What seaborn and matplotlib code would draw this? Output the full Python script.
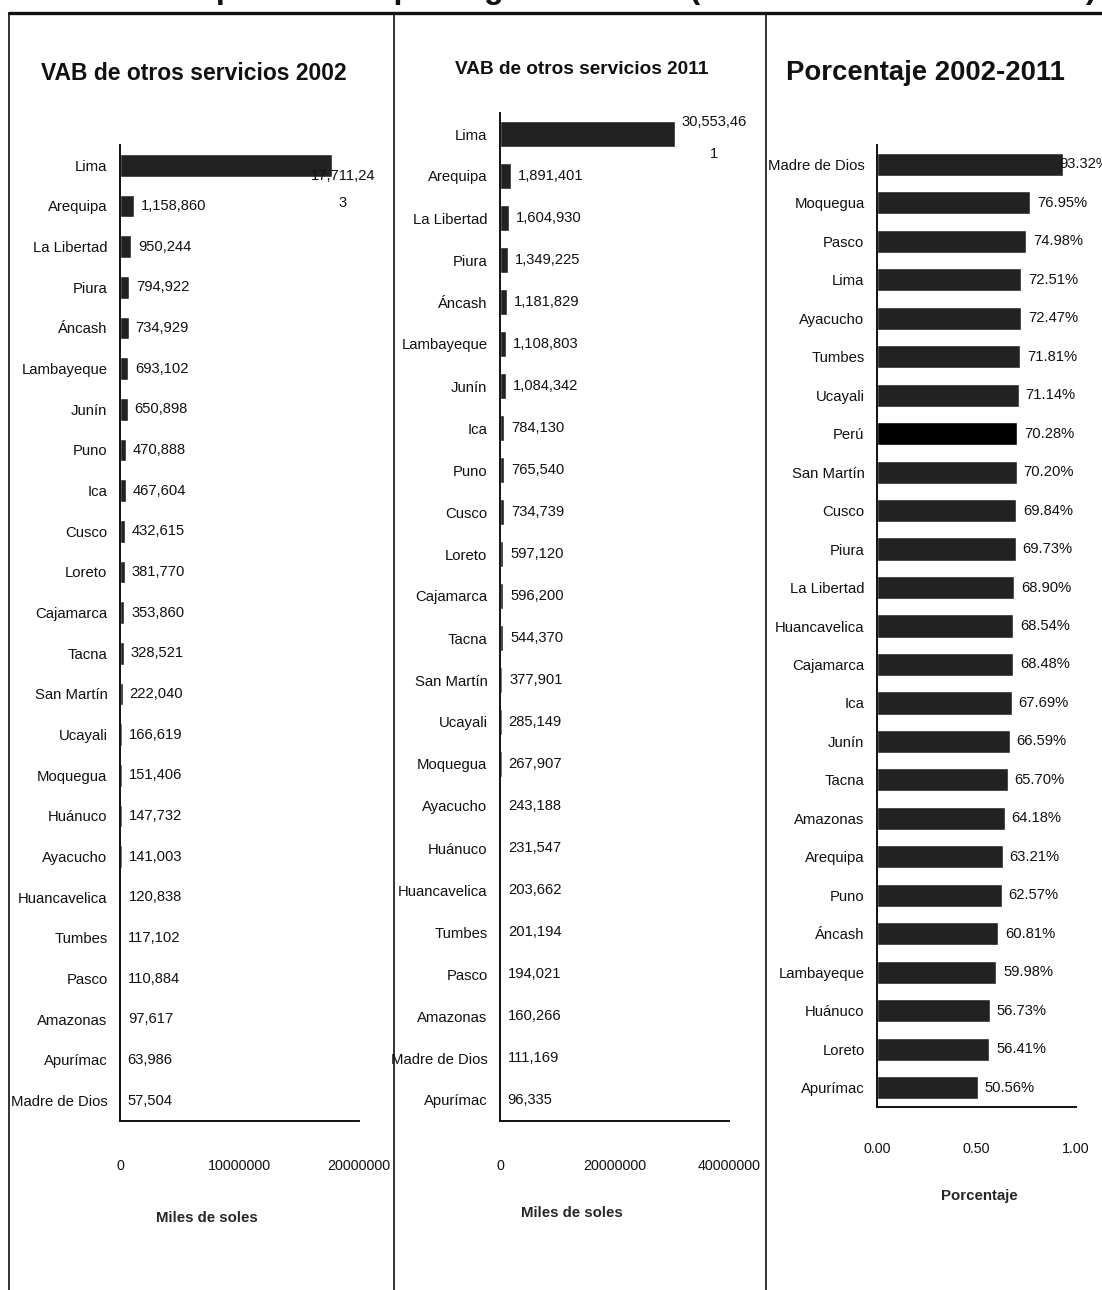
import matplotlib
matplotlib.use("Agg")
import matplotlib.pyplot as plt
from matplotlib.lines import Line2D
from matplotlib.textpath import TextPath
from matplotlib.font_manager import FontProperties
import seaborn as sns
import pandas as pd

# --- data -------------------------------------------------------------
regions_2002 = ["Lima", "Arequipa", "La Libertad", "Piura", "Áncash", "Lambayeque",
                "Junín", "Puno", "Ica", "Cusco", "Loreto", "Cajamarca", "Tacna",
                "San Martín", "Ucayali", "Moquegua", "Huánuco", "Ayacucho",
                "Huancavelica", "Tumbes", "Pasco", "Amazonas", "Apurímac",
                "Madre de Dios"]
vab_2002 = [17711243, 1158860, 950244, 794922, 734929, 693102, 650898, 470888,
            467604, 432615, 381770, 353860, 328521, 222040, 166619, 151406,
            147732, 141003, 120838, 117102, 110884, 97617, 63986, 57504]

regions_2011 = ["Lima", "Arequipa", "La Libertad", "Piura", "Áncash", "Lambayeque",
                "Junín", "Ica", "Puno", "Cusco", "Loreto", "Cajamarca", "Tacna",
                "San Martín", "Ucayali", "Moquegua", "Ayacucho", "Huánuco",
                "Huancavelica", "Tumbes", "Pasco", "Amazonas", "Madre de Dios",
                "Apurímac"]
vab_2011 = [30553461, 1891401, 1604930, 1349225, 1181829, 1108803, 1084342,
            784130, 765540, 734739, 597120, 596200, 544370, 377901, 285149,
            267907, 243188, 231547, 203662, 201194, 194021, 160266, 111169, 96335]

regions_pct = ["Madre de Dios", "Moquegua", "Pasco", "Lima", "Ayacucho", "Tumbes",
               "Ucayali", "Perú", "San Martín", "Cusco", "Piura", "La Libertad",
               "Huancavelica", "Cajamarca", "Ica", "Junín", "Tacna", "Amazonas",
               "Arequipa", "Puno", "Áncash", "Lambayeque", "Huánuco", "Loreto",
               "Apurímac"]
pct_2002_2011 = [0.9332, 0.7695, 0.7498, 0.7251, 0.7247, 0.7181, 0.7114, 0.7028,
                 0.7020, 0.6984, 0.6973, 0.6890, 0.6854, 0.6848, 0.6769, 0.6659,
                 0.6570, 0.6418, 0.6321, 0.6257, 0.6081, 0.5998, 0.5673, 0.5641,
                 0.5056]

ticks_miles_2002 = [0, 10000000, 20000000]
ticks_miles_2011 = [0, 20000000, 40000000]
ticks_pct = [0.0, 0.5, 1.0]

titles = ["VAB de otros servicios 2002", "VAB de otros servicios 2011",
          "Porcentaje 2002-2011"]
xlabels = ["Miles de soles", "Miles de soles", "Porcentaje"]
heading = "Comparaciones por región del VAB (en miles de nuevos soles)"

# --- style ------------------------------------------------------------
sns.set_theme(style="white")
FONT = ["Liberation Sans", "DejaVu Sans"]
plt.rcParams["font.family"] = FONT
plt.rcParams["text.color"] = "#111111"

BAR = "#222222"
TOTAL = "#000000"
INK = "#111111"
W, H = 1102, 1290
fig = plt.figure(figsize=(W / 100, H / 100), dpi=100)
fig.patch.set_facecolor("white")


def fit_size(s, target_px, weight="normal"):
    """Font size (pt) that gives the string s an ink width of target_px."""
    fp = FontProperties(family=FONT, weight=weight)
    w = TextPath((0, 0), s, size=10, prop=fp).get_extents().width
    return target_px * 0.72 * 10 / w


CAT = fit_size("Madre de Dios", 95)
VAL = fit_size("57,504", 44)
TICK = fit_size("20000000", 62)
XLAB = fit_size("Miles de soles", 100, "bold")


def px_axes(x0, x1, y0, y1):
    return fig.add_axes([x0 / W, 1 - y1 / H, (x1 - x0) / W, (y1 - y0) / H])


def fmt_miles(v):
    s = f"{v:,}"
    return s if len(s) <= 9 else s[:9] + "\n" + s[9:]


def style_axis(ax, ticks, ticklabels, xlabel, label_x, tick_pad, label_pad):
    ax.set_xticks(ticks)
    ax.set_xticklabels(ticklabels, fontsize=TICK)
    ax.set_xlim(ticks[0], ticks[-1])
    ax.set_xlabel(xlabel, fontsize=XLAB, fontweight="bold", labelpad=label_pad)
    ax.xaxis.label.set_x(label_x)
    ax.set_ylabel("")
    ax.tick_params(axis="x", length=0, pad=tick_pad, colors=INK)
    ax.tick_params(axis="y", length=0, pad=9, labelsize=CAT, colors=INK)
    for side in ("top", "right"):
        ax.spines[side].set_visible(False)
    for side in ("left", "bottom"):
        ax.spines[side].set_color(INK)
        ax.spines[side].set_linewidth(1.4)


def draw_panel(ax, cats, vals, colors, width):
    df = pd.DataFrame({"region": cats, "valor": vals})
    sns.barplot(data=df, y="region", x="valor", hue="region", palette=colors,
                dodge=False, legend=False, width=width, ax=ax, orient="h",
                saturation=1)


def value_labels(ax, vals, fmt):
    for i, v in enumerate(vals[1:], start=1):
        ax.annotate(fmt(v), (v, i), xytext=(5, 0), textcoords="offset points",
                    va="center", ha="left", fontsize=VAL)


# --- panel 1: 2002 ----------------------------------------------------
ax1 = px_axes(120, 359, 145, 1121)
draw_panel(ax1, regions_2002, vab_2002, {r: BAR for r in regions_2002}, 0.55)
style_axis(ax1, ticks_miles_2002, [str(t) for t in ticks_miles_2002],
           xlabels[0], 0.364, 27, 28)
value_labels(ax1, vab_2002, lambda v: f"{v:,}")
ax1.text(0.933, 0.6, fmt_miles(vab_2002[0]), transform=ax1.get_yaxis_transform(),
         ha="center", va="center", fontsize=VAL, linespacing=2.2,
         multialignment="center")

# --- panel 2: 2011 ----------------------------------------------------
ax2 = px_axes(500, 729, 113, 1121)
draw_panel(ax2, regions_2011, vab_2011, {r: BAR for r in regions_2011}, 0.6)
style_axis(ax2, ticks_miles_2011, [str(t) for t in ticks_miles_2011],
           xlabels[1], 0.314, 27, 24)
value_labels(ax2, vab_2011, lambda v: f"{v:,}")
ax2.text(0.934, 0.1, fmt_miles(vab_2011[0]), transform=ax2.get_yaxis_transform(),
         ha="center", va="center", fontsize=VAL, linespacing=2.6,
         multialignment="center")

# --- panel 3: porcentaje ----------------------------------------------
ax3 = px_axes(877, 1076, 145, 1107)
pct_colors = {r: (TOTAL if r == "Perú" else BAR) for r in regions_pct}
draw_panel(ax3, regions_pct, pct_2002_2011, pct_colors, 0.6)
style_axis(ax3, ticks_pct, [f"{t:.2f}" for t in ticks_pct], xlabels[2],
           0.515, 25, 24)
value_labels(ax3, pct_2002_2011, lambda v: f"{v * 100:.2f}%")
ax3.text(0.915, 0, f"{pct_2002_2011[0] * 100:.2f}%",
         transform=ax3.get_yaxis_transform(), ha="left", va="center",
         fontsize=VAL)

# --- panel titles -----------------------------------------------------
for title, (cx, cy, wpx) in zip(titles, [(194, 73, 305), (582, 69, 252),
                                         (925, 73, 276)]):
    fig.text(cx / W, 1 - cy / H, title, ha="center", va="center",
             fontsize=fit_size(title, wpx, "bold"), fontweight="bold")

# --- frame around the three panels ------------------------------------
fig.add_artist(Line2D([9 / W, 1], [1 - 13 / H] * 2, linewidth=2.4,
                      color=INK, transform=fig.transFigure))
for xp in (9, 394, 766):
    fig.add_artist(Line2D([xp / W] * 2, [0, 1 - 13 / H], color=INK,
                          linewidth=1.2, transform=fig.transFigure))

# main heading, running off the top edge of the page
fig.text(621 / W, 1 + 2 / H, heading, ha="center", va="baseline",
         fontsize=fit_size(heading, 950, "bold"), fontweight="bold")

fig.savefig("out.png", dpi=100, facecolor="white")
